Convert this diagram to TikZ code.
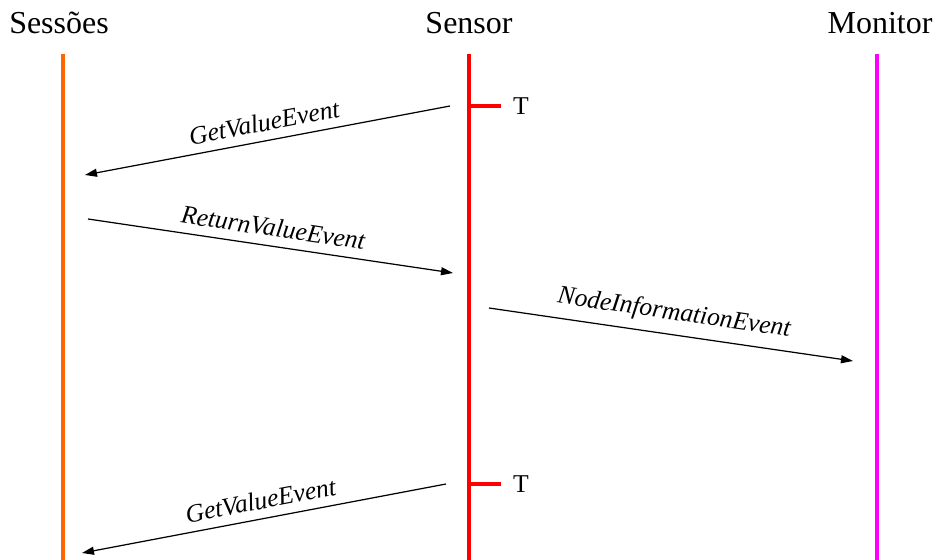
\documentclass[tikz,border=0pt]{standalone}
\usepackage{fontspec}
\setmainfont{Liberation Serif}
\usetikzlibrary{arrows.meta}
\definecolor{sessoesorange}{RGB}{255,102,0}
\definecolor{monitormagenta}{RGB}{255,0,255}
\tikzset{
	lifeline/.style={line width=2.2pt},
	head/.style={font=\fontsize{18.2}{20}\selectfont, inner sep=0pt},
	msg/.style={line width=0.7pt, -{Triangle[length=0.24cm, width=0.16cm]}},
	msglabel/.style={font=\fontsize{14.6}{16}\itshape, sloped, above, inner sep=5pt},
	tickline/.style={line width=2.2pt, color=red},
	ticklabel/.style={font=\fontsize{14.6}{16}\selectfont, text=black, inner sep=0pt}
}

\begin{document}
\begin{tikzpicture}[x=0.02cm, y=-0.02cm]
			%%%%% START %%%%%
			\useasboundingbox (0, 0) rectangle (934, 560);
			
			\node[head] (sessoes) at (59, 23) {Sessões};
			\node[head] (sensor) at (469, 23) {Sensor};
			\node[head] (monitor) at (880, 23) {Monitor};
			
			\draw[lifeline, color=sessoesorange] (63, 54) -- (63, 560);
			\draw[lifeline, color=red] (469, 54) -- (469, 560);
			\draw[lifeline, color=monitormagenta] (877, 54) -- (877, 560);
			
			% timer ticks
			\coordinate (t1) at (469, 106);
			\coordinate (t2) at (469, 484);
			\draw[tickline] (t1) -- ++(32, 0) coordinate (t1end);
			\draw[tickline] (t2) -- ++(32, 0) coordinate (t2end);
			\node[ticklabel] (t1label) at (521, 106) {T};
			\node[ticklabel] (t2label) at (521, 484) {T};
			
			% messages
			\coordinate (get1s) at (450, 106);
			\coordinate (get1e) at (85, 175);
			\coordinate (rets) at (88, 219);
			\coordinate (rete) at (453, 273);
			\coordinate (infos) at (489, 308);
			\coordinate (infoe) at (853, 361);
			\coordinate (get2s) at (446, 484);
			\coordinate (get2e) at (82, 553);
			
			\draw[msg] (get1s) -- node[msglabel] (get1label) {GetValueEvent} (get1e);
			\draw[msg] (rets) -- node[msglabel] (retlabel) {ReturnValueEvent} (rete);
			\draw[msg] (infos) -- node[msglabel] (infolabel) {NodeInformationEvent} (infoe);
			\draw[msg] (get2s) -- node[msglabel] (get2label) {GetValueEvent} (get2e);
			
			%%%%% END %%%%%
\end{tikzpicture}
\end{document}
